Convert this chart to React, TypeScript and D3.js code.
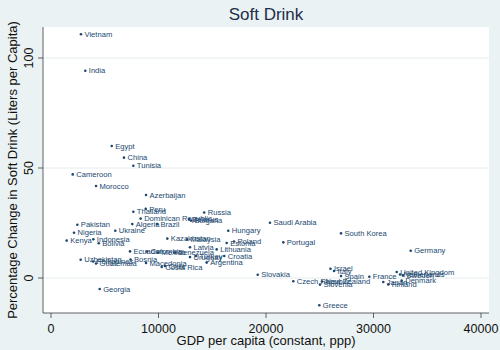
import React, { useEffect, useRef } from "react";
import * as d3 from "d3";

const countries = [
  "Vietnam","India","Egypt","China","Tunisia","Cameroon","Morocco","Azerbaijan","Peru","Thailand",
  "Dominican Republic","Algeria","Brazil","Belarus","Bulgaria","Russia","Ukraine","Pakistan","Nigeria","Kenya",
  "Indonesia","Bolivia","Kazakhstan","Malaysia","Hungary","Estonia","Poland","Saudi Arabia","Portugal","South Korea",
  "Germany","Ecuador","Colombia","Mexico","Venezuela","Latvia","Lithuania","Uruguay","Turkey","Croatia",
  "Argentina","Costa Rica","Chile","Macedonia","Bosnia","Uzbekistan","Philippines","Guatemala","Georgia","Slovakia",
  "Israel","Italy","Spain","France","Czech Republic","New Zealand","Slovenia","Greece","United Kingdom","Netherlands",
  "Sweden","Japan","Denmark","Finland"
];
const gdp = [
  2790,3190,5650,6790,7660,2020,4190,8840,8810,7660,
  8340,7560,9860,12840,13020,14250,5980,2450,2140,1460,
  3940,4440,10820,12650,16490,16340,17020,20370,21610,26980,
  33460,7350,8930,9950,11530,12930,15410,12930,13490,16120,
  14480,10300,10600,8840,7400,2760,3910,4190,4530,19230,
  26000,26330,26980,29610,22540,25210,25020,24960,32160,32470,
  32740,30910,32620,31380
];
const change = [
  110.8,94.2,60.0,54.7,51.0,47.1,41.8,37.7,31.4,30.1,
  27.0,24.5,24.5,26.8,26.1,29.8,21.5,24.2,20.6,17.0,
  17.6,15.8,17.9,17.5,21.5,15.9,16.6,25.1,16.2,20.3,
  12.4,12.1,12.0,11.6,11.6,14.0,13.0,9.5,10.0,10.0,
  7.0,5.0,5.5,6.8,8.4,8.3,7.5,6.6,-5.0,1.5,
  4.2,3.2,0.9,0.6,-1.5,-1.6,-3.0,-12.4,2.7,1.6,
  1.1,-1.8,-1.2,-2.9
];
const xTicks = [0, 10000, 20000, 30000, 40000];
const yTicks = [0, 50, 100];

const W = 500, H = 350;
const plot = { left: 43, right: 489, top: 27, bottom: 313 };
const FONT = "'Liberation Sans', Arial, sans-serif";
const NAVY = "#1a476f";

export default function App() {
  const ref = useRef<SVGSVGElement | null>(null);
  useEffect(() => {
    const svg = d3.select(ref.current);
    svg.selectAll("*").remove();
    const x = d3.scaleLinear().domain([0, 40000]).range([51, 481]);
    const y = d3.scaleLinear().domain([0, 100]).range([278, 58]);

    svg.append("rect").attr("width", W).attr("height", H).attr("fill", "#eaf2f3");
    svg.append("rect")
      .attr("x", plot.left).attr("y", plot.top)
      .attr("width", plot.right - plot.left).attr("height", plot.bottom - plot.top)
      .attr("fill", "#ffffff");

    // gridlines
    svg.append("g").selectAll("line").data(yTicks).join("line")
      .attr("x1", plot.left).attr("x2", plot.right)
      .attr("y1", d => y(d)).attr("y2", d => y(d))
      .attr("stroke", "#e4ecee").attr("stroke-width", 1);

    // axes
    svg.append("line").attr("x1", plot.left).attr("x2", plot.left)
      .attr("y1", plot.top).attr("y2", plot.bottom).attr("stroke", "#3a3a3a").attr("stroke-width", 0.8);
    svg.append("line").attr("x1", plot.left).attr("x2", plot.right)
      .attr("y1", plot.bottom).attr("y2", plot.bottom).attr("stroke", "#3a3a3a").attr("stroke-width", 0.8);

    const yt = svg.append("g");
    yt.selectAll("line").data(yTicks).join("line")
      .attr("x1", plot.left - 5).attr("x2", plot.left)
      .attr("y1", d => y(d)).attr("y2", d => y(d)).attr("stroke", "#3a3a3a").attr("stroke-width", 0.8);
    yt.selectAll("text").data(yTicks).join("text")
      .attr("transform", d => `translate(33,${y(d)}) rotate(-90)`)
      .attr("text-anchor", "middle").attr("font-family", FONT).attr("font-size", 12.5)
      .attr("fill", "#111").text(d => String(d));

    const xt = svg.append("g");
    xt.selectAll("line").data(xTicks).join("line")
      .attr("x1", d => x(d)).attr("x2", d => x(d))
      .attr("y1", plot.bottom).attr("y2", plot.bottom + 5).attr("stroke", "#3a3a3a").attr("stroke-width", 0.8);
    xt.selectAll("text").data(xTicks).join("text")
      .attr("x", d => x(d)).attr("y", 333)
      .attr("text-anchor", "middle").attr("font-family", FONT).attr("font-size", 12.5)
      .attr("fill", "#111").text(d => String(d));

    // titles
    svg.append("text").attr("x", 266).attr("y", 20).attr("text-anchor", "middle")
      .attr("font-family", FONT).attr("font-size", 17).attr("fill", "#1e2d4a").text("Soft Drink");
    svg.append("text").attr("x", 266).attr("y", 345).attr("text-anchor", "middle")
      .attr("font-family", FONT).attr("font-size", 13).attr("fill", "#111")
      .text("GDP per capita (constant, ppp)");
    svg.append("text").attr("transform", `translate(17,${(plot.top + plot.bottom) / 2}) rotate(-90)`)
      .attr("text-anchor", "middle").attr("font-family", FONT).attr("font-size", 13).attr("fill", "#111")
      .text("Percentage Change in Soft Drink (Liters per Capita)");

    const idx = d3.range(countries.length);
    const pts = svg.append("g");
    pts.selectAll("circle").data(idx).join("circle")
      .attr("cx", i => x(gdp[i])).attr("cy", i => y(change[i])).attr("r", 1.3).attr("fill", NAVY);
    pts.selectAll("text").data(idx).join("text")
      .attr("x", i => x(gdp[i]) + 3.5).attr("y", i => y(change[i]))
      .attr("dy", "0.35em").attr("font-family", FONT).attr("font-size", 7.6)
      .attr("fill", NAVY).text(i => countries[i]);
  }, []);
  return (
    <div style={{ position: "fixed", left: 0, top: 0 }}>
      <svg ref={ref} width={W} height={H} />
    </div>
  );
}
